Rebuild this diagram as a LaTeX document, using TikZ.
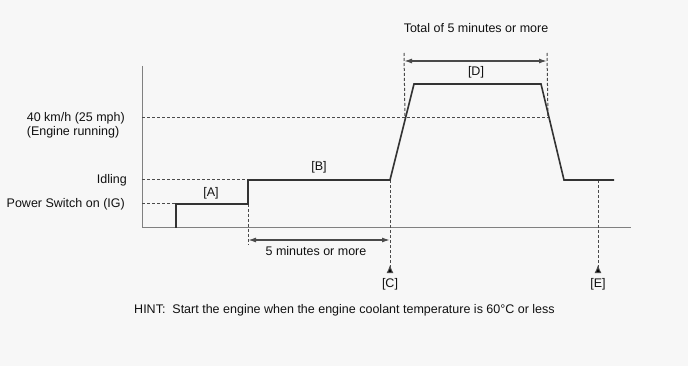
\documentclass[tikz,border=0pt]{standalone}
\usepackage{fontspec}
\setmainfont{Liberation Sans}
\usetikzlibrary{arrows.meta}
\definecolor{bg}{HTML}{F7F7F7}
\definecolor{axisc}{HTML}{808080}
\definecolor{sigc}{HTML}{333333}
\definecolor{guidec}{HTML}{4A4A4A}
\definecolor{txtc}{HTML}{111111}
\tikzset{
  axis/.style={draw=axisc, line width=1pt},
  sig/.style={draw=sigc, line width=1.6pt, line join=miter},
  guide/.style={draw=guidec, line width=1pt, dash pattern=on 3pt off 2pt},
  dimline/.style={draw=guidec, line width=1.4pt, {Latex[length=8pt,width=5pt]}-{Latex[length=8pt,width=5pt]}},
  upmark/.style={guide, -{Latex[length=8pt,width=7pt,reversed,fill=black]}},
  lbl/.style={font=\fontsize{12.5}{14}\selectfont, text=txtc, inner sep=0pt},
}
\begin{document}
\begin{tikzpicture}[x=1pt,y=-1pt]
\fill[bg] (0,0) rectangle (688,366);
\useasboundingbox (0,0) rectangle (688,366);

% axes
\coordinate (ytop) at (142,66);
\coordinate (orig) at (142,228);
\coordinate (xend) at (631,228);
\draw[axis] (ytop) -- (orig) -- (xend);

% signal points
\coordinate (s0) at (176,228);
\coordinate (s1) at (176,204);
\coordinate (s2) at (248,204);
\coordinate (s3) at (248,180);
\coordinate (s4) at (390,180);
\coordinate (s5) at (414,84);
\coordinate (s6) at (541,84);
\coordinate (s7) at (564,180);
\coordinate (s8) at (614,180);

% guide levels
\coordinate (l40a) at (142,118);
\coordinate (l40b) at (549,118);
\coordinate (lida) at (142,180);
\coordinate (lpsa) at (142,204);
\draw[guide] (l40a) -- (l40b);
\draw[guide] (lida) -- (s3);
\draw[guide] (lpsa) -- (s1);

% dimension 5 minutes
\coordinate (b1) at (248,245);
\coordinate (d1a) at (248,240);
\coordinate (d1b) at (390,240);
\draw[guide] (s2) -- (b1);
\draw[dimline] (d1a) -- (d1b);

% dimension D
\coordinate (dl) at (404,53);
\coordinate (dlb) at (405,118);
\coordinate (dr) at (547,53);
\coordinate (drb) at (548,118);
\coordinate (d2a) at (404,61);
\coordinate (d2b) at (547,61);
\draw[guide] (dl) -- (dlb);
\draw[guide] (dr) -- (drb);
\draw[dimline] (d2a) -- (d2b);

% C and E markers
\coordinate (cb) at (390,273);
\coordinate (e0) at (598,180);
\coordinate (eb) at (598,273);
\draw[upmark] (s4) -- (cb);
\draw[upmark] (e0) -- (eb);

% signal
\draw[sig] (s0) -- (s1) -- (s2) -- (s3) -- (s4) -- (s5) -- (s6) -- (s7) -- (s8);

% labels
\node[lbl, anchor=east, align=left] (t40) at (125,125) {40 km/h (25 mph)\\(Engine running)};
\node[lbl, anchor=east] (tid) at (127,180) {Idling};
\node[lbl, anchor=east] (tps) at (125,204) {Power Switch on (IG)};
\node[lbl] (ta) at (211,193) {[A]};
\node[lbl] (tb) at (319,167) {[B]};
\node[lbl] (tc) at (390,284) {[C]};
\node[lbl] (tdd) at (476,72) {[D]};
\node[lbl] (te) at (598,284) {[E]};
\node[lbl] (t5) at (316,251) {5 minutes or more};
\node[lbl] (ttot) at (476,28) {Total of 5 minutes or more};
\node[lbl] (hint) at (344.5,310) {HINT:\ \ Start the engine when the engine coolant temperature is 60°C or less};
\end{tikzpicture}
\end{document}
